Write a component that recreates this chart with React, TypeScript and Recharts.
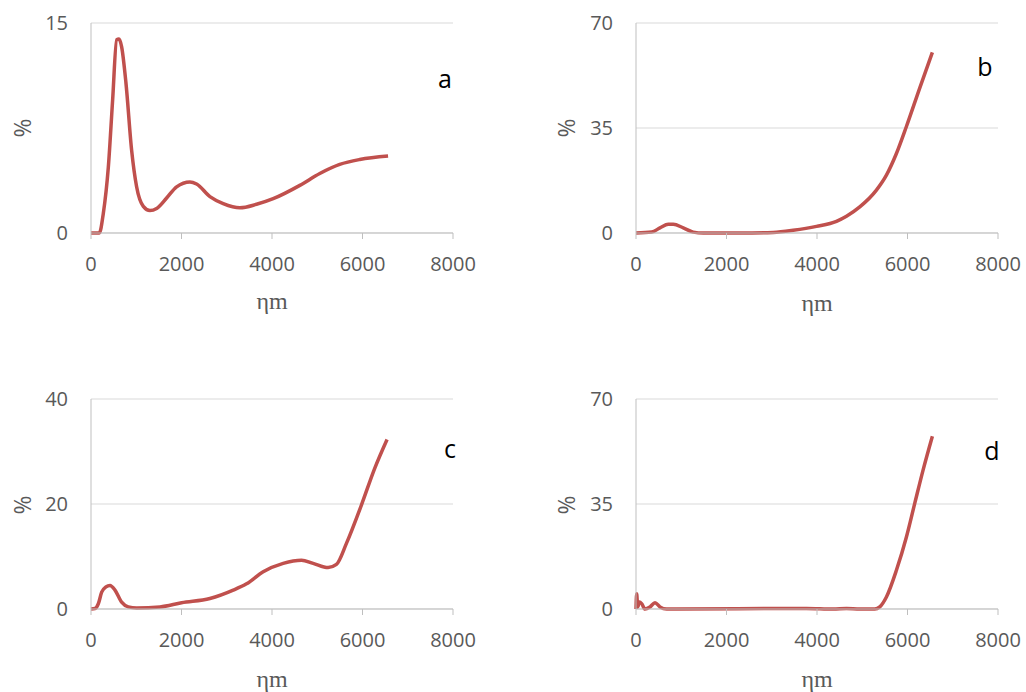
import React from 'react'
import { LineChart, Line, XAxis, YAxis, CartesianGrid } from 'recharts'

// particle size (ηm) and share (%)
const sizeA = [0, 184, 272, 383, 478, 567, 618, 677, 773, 898, 1008, 1156, 1303, 1450, 1671, 1892, 2186, 2333, 2628, 2922, 3290, 3658, 4026, 4615, 5056, 5497, 5939, 6565]
const pctA = [0, 0, 1.4, 4.7, 9.5, 13.8, 13.85, 13.3, 10.7, 5.9, 3.3, 1.9, 1.6, 1.75, 2.5, 3.3, 3.65, 3.5, 2.6, 2.1, 1.8, 2.05, 2.45, 3.4, 4.25, 4.9, 5.25, 5.5]

const sizeB = [0, 346, 530, 714, 824, 1045, 1266, 1487, 2296, 3032, 3474, 3989, 4430, 4651, 4945, 5313, 5534, 5755, 5976, 6270, 6550]
const pctB = [0, 0.3, 1.7, 2.9, 2.9, 1.7, 0.3, 0, 0, 0.2, 0.9, 2.2, 3.9, 5.6, 8.7, 14.3, 19.3, 26.5, 35.5, 48.3, 60.2]

const sizeC = [0, 88, 162, 236, 331, 420, 530, 677, 824, 1008, 1524, 2002, 2628, 3143, 3437, 3805, 4247, 4652, 4909, 5240, 5424, 5645, 5976, 6270, 6543]
const pctC = [0, 0.1, 1.0, 3.2, 4.2, 4.5, 3.6, 1.3, 0.4, 0.2, 0.4, 1.2, 2.0, 3.6, 4.8, 7.1, 8.7, 9.3, 8.7, 7.9, 8.5, 12.5, 19.8, 26.8, 32.3]

const sizeD = [0, 15, 37, 74, 125, 199, 309, 420, 530, 677, 3768, 4357, 4651, 4945, 5276, 5387, 5534, 5755, 5976, 6160, 6344, 6550]
const pctD = [0, 5.1, 0.7, 2.3, 1.8, 0, 0.7, 2.1, 0.7, 0, 0.2, 0, 0.2, 0, 0, 0.7, 4.0, 12.9, 24, 35.2, 46.3, 57.6]

const xTicks = [0, 2000, 4000, 6000, 8000]
const yTicksA = [0, 15]
const yTicksB = [0, 35, 70]
const yTicksC = [0, 20, 40]
const yTicksD = [0, 35, 70]

const toRows = (xs: number[], ys: number[]) => xs.map((x, i) => ({ x, y: ys[i] }))

const gray = '#595959'
const tickStyle = { fill: gray, fontSize: 20, fontFamily: 'Open Sans' }

type PanelProps = {
  rows: Array<{ x: number; y: number }>
  yTicks: number[]
  letter: string
  left: number
  top: number
  width: number
  height: number
  marginLeft: number
  marginRight: number
  marginTop: number
  xAxisHeight: number
  labelOffset: number
  pctPos: [number, number]
  letterPos: [number, number]
}

function Panel(p: PanelProps) {
  const yMax = p.yTicks[p.yTicks.length - 1]
  return (
    <div style={{ position: 'absolute', left: p.left, top: p.top }}>
      <LineChart
        width={p.width}
        height={p.height}
        data={p.rows}
        margin={{ top: p.marginTop, right: p.marginRight, left: p.marginLeft, bottom: 0 }}
      >
        <CartesianGrid vertical={false} stroke="#d9d9d9" strokeWidth={1} />
        <XAxis
          dataKey="x"
          type="number"
          domain={[0, 8000]}
          ticks={xTicks}
          interval={0}
          height={p.xAxisHeight}
          stroke="#bfbfbf"
          tickSize={6}
          tickMargin={18}
          tick={tickStyle}
          label={{
            value: 'ηm',
            position: 'insideBottom',
            offset: p.labelOffset,
            fill: gray,
            fontSize: 24,
            fontFamily: 'Liberation Serif',
          }}
        />
        <YAxis
          type="number"
          domain={[0, yMax]}
          ticks={p.yTicks}
          interval={0}
          width={61}
          stroke="#bfbfbf"
          tickLine={false}
          tickSize={0}
          tickMargin={23}
          tick={tickStyle}
        />
        <Line
          type="monotone"
          dataKey="y"
          stroke="#C0504D"
          strokeWidth={3.5}
          dot={false}
          isAnimationActive={false}
        />
        <text
          x={p.pctPos[0]}
          y={p.pctPos[1]}
          transform={`rotate(-90 ${p.pctPos[0]} ${p.pctPos[1]})`}
          textAnchor="middle"
          dominantBaseline="central"
          fill={gray}
          fontSize={23}
          fontFamily="Open Sans"
        >
          %
        </text>
        <text
          x={p.letterPos[0]}
          y={p.letterPos[1]}
          textAnchor="middle"
          dominantBaseline="central"
          fill="#000"
          fontSize={25}
          fontFamily="Open Sans"
        >
          {p.letter}
        </text>
      </LineChart>
    </div>
  )
}

export default function App() {
  return (
    <div style={{ position: 'absolute', left: 0, top: 0, width: 1026, height: 692, background: '#fff', overflow: 'hidden' }}>
      <Panel rows={toRows(sizeA, pctA)} yTicks={yTicksA} letter="a" left={0} top={0} width={480} height={320}
        marginLeft={30} marginRight={27} marginTop={23} xAxisHeight={87} labelOffset={11}
        pctPos={[22, 128]} letterPos={[445, 78]} />
      <Panel rows={toRows(sizeB, pctB)} yTicks={yTicksB} letter="b" left={540} top={0} width={486} height={320}
        marginLeft={35} marginRight={28} marginTop={23} xAxisHeight={87} labelOffset={9}
        pctPos={[26, 128]} letterPos={[445, 66]} />
      <Panel rows={toRows(sizeC, pctC)} yTicks={yTicksC} letter="c" left={0} top={380} width={480} height={312}
        marginLeft={30} marginRight={27} marginTop={19} xAxisHeight={83} labelOffset={5}
        pctPos={[22, 125]} letterPos={[450, 68]} />
      <Panel rows={toRows(sizeD, pctD)} yTicks={yTicksD} letter="d" left={540} top={380} width={486} height={312}
        marginLeft={35} marginRight={28} marginTop={19} xAxisHeight={83} labelOffset={5}
        pctPos={[26, 125]} letterPos={[452, 70]} />
    </div>
  )
}
